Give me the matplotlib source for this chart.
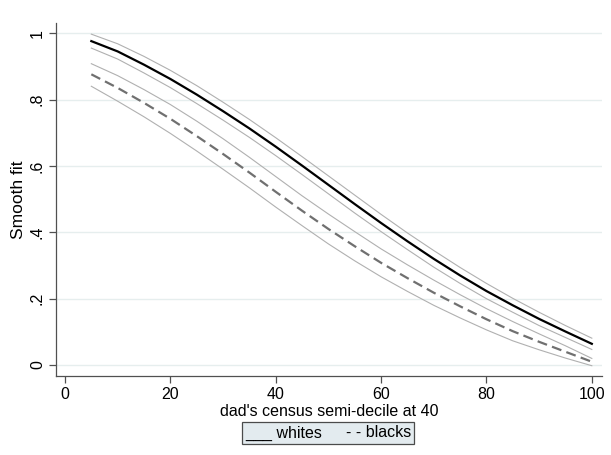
import matplotlib
matplotlib.use("Agg")
import matplotlib.pyplot as plt
from matplotlib.lines import Line2D

# data
semidecile = [5, 10, 15, 20, 25, 30, 35, 40, 45, 50, 55, 60, 65, 70, 75, 80, 85, 90, 95, 100]

whites = [0.976, 0.945, 0.905, 0.862, 0.815, 0.765, 0.713, 0.658, 0.601, 0.543,
          0.485, 0.428, 0.373, 0.320, 0.270, 0.223, 0.180, 0.139, 0.101, 0.064]
whites_hi = [0.997, 0.968, 0.930, 0.888, 0.842, 0.792, 0.740, 0.685, 0.628, 0.570,
             0.512, 0.454, 0.398, 0.345, 0.294, 0.246, 0.201, 0.159, 0.119, 0.081]
whites_lo = [0.955, 0.922, 0.880, 0.836, 0.788, 0.738, 0.686, 0.631, 0.574, 0.516,
             0.458, 0.402, 0.348, 0.295, 0.246, 0.200, 0.159, 0.119, 0.083, 0.047]

blacks = [0.876, 0.835, 0.790, 0.742, 0.690, 0.636, 0.580, 0.522, 0.465, 0.410,
          0.358, 0.308, 0.262, 0.218, 0.177, 0.138, 0.102, 0.070, 0.040, 0.010]
blacks_hi = [0.908, 0.872, 0.830, 0.785, 0.735, 0.682, 0.626, 0.568, 0.510, 0.455,
             0.402, 0.350, 0.302, 0.256, 0.212, 0.170, 0.131, 0.094, 0.058, 0.020]
blacks_lo = [0.840, 0.795, 0.748, 0.698, 0.645, 0.590, 0.534, 0.476, 0.420, 0.365,
             0.314, 0.266, 0.222, 0.180, 0.142, 0.106, 0.073, 0.046, 0.021, -0.002]

xticks = [0, 20, 40, 60, 80, 100]
yticks = [0, 0.2, 0.4, 0.6, 0.8, 1.0]
ytick_labels = ["0", ".2", ".4", ".6", ".8", "1"]

plt.rcParams['font.family'] = ['Liberation Sans', 'DejaVu Sans']

fig = plt.figure(figsize=(6.11, 4.55), dpi=100)
ax = fig.add_axes([0.0917, 0.1736, 0.8933, 0.7754])

ci_col = "#b0b0b0"
ax.plot(semidecile, whites_hi, color=ci_col, lw=0.8)
ax.plot(semidecile, whites_lo, color=ci_col, lw=0.8)
ax.plot(semidecile, blacks_hi, color=ci_col, lw=0.8)
ax.plot(semidecile, blacks_lo, color=ci_col, lw=0.8)
ax.plot(semidecile, whites, color="black", lw=1.6)
ax.plot(semidecile, blacks, color="#707070", lw=1.6, dashes=(4.5, 2.4))

ax.set_xlim(-1.7, 101.9)
ax.set_ylim(-0.033, 1.03)
ax.set_xticks(xticks)
ax.set_yticks(yticks)
ax.set_yticklabels(ytick_labels, rotation=90, va="center")
ax.tick_params(axis="both", direction="out", length=5, width=0.9, color="#505050",
               labelsize=11.5, pad=3)
ax.grid(axis="y", color="#e6eeee", lw=1.0)
ax.set_axisbelow(True)
for s in ["top", "right"]:
    ax.spines[s].set_visible(False)
for s in ["left", "bottom"]:
    ax.spines[s].set_color("#505050")
    ax.spines[s].set_linewidth(0.9)

ax.set_xlabel("dad's census semi-decile at 40", fontsize=11.5, labelpad=1)
ax.set_ylabel("Smooth fit", fontsize=12.5, labelpad=3)

h = [Line2D([], [], lw=0), Line2D([], [], lw=0)]
leg = fig.legend(h, ["___ whites", "- - blacks"], ncol=2, loc="center",
                 bbox_to_anchor=(328 / 611, 1 - 433 / 455), handlelength=0,
                 handletextpad=0, columnspacing=1.5, fontsize=11.5,
                 frameon=True, fancybox=False, borderpad=0.2)
leg.get_frame().set_facecolor("#dce6ec")
leg.get_frame().set_edgecolor("#202020")
leg.get_frame().set_linewidth(0.9)

fig.savefig("out.png", dpi=100)
